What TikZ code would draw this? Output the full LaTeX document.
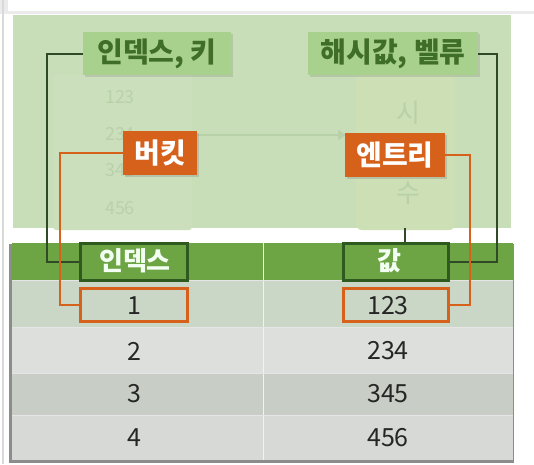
\documentclass[tikz,border=0pt]{standalone}
\usepackage{fontspec}
\setmainfont{Noto Sans CJK KR}
\newfontfamily\kr{Noto Sans CJK KR}
\usetikzlibrary{shadows,arrows.meta}
\definecolor{panel}{HTML}{C8DEB8}
\definecolor{ghostL}{HTML}{CBDFBD}
\definecolor{ghostR}{HTML}{CDDFB4}
\definecolor{ghosttxt}{HTML}{B9D1A9}
\definecolor{labfill}{HTML}{A9D18E}
\definecolor{labtxt}{HTML}{3F6E28}
\definecolor{orng}{HTML}{D5611B}
\definecolor{dkline}{HTML}{2E4A26}
\definecolor{hdrgreen}{HTML}{6EA544}
\definecolor{hdrbox}{HTML}{2F5A1F}
\definecolor{rowA}{HTML}{CAD6C6}
\definecolor{rowB}{HTML}{DCDFDB}
\definecolor{rowC}{HTML}{C8CEC6}
\definecolor{rowD}{HTML}{D6D9D5}
\tikzset{
  greenlab/.style={fill=labfill, text=labtxt, font=\kr\bfseries\fontsize{28}{28}\selectfont, inner sep=0pt, drop shadow={opacity=0.25, shadow xshift=2pt, shadow yshift=-2pt}},
  orangelab/.style={fill=orng, text=white, font=\kr\bfseries\fontsize{28}{28}\selectfont, inner sep=0pt, drop shadow={opacity=0.3, shadow xshift=2pt, shadow yshift=-2pt}},
  hdrcell/.style={draw=hdrbox, line width=3pt, inner sep=0pt},
  selcell/.style={draw=orng, line width=3pt, inner sep=0pt},
  darkline/.style={draw=dkline, line width=2pt},
  orangeline/.style={draw=orng, line width=2pt},
  numtxt/.style={font=\kr\fontsize{25}{25}\selectfont, text=black!85, inner sep=0pt},
  hdrtxt/.style={font=\kr\bfseries\fontsize{26}{26}\selectfont, text=white!95!green, inner sep=0pt},
  ghost/.style={font=\kr\fontsize{18}{18}\selectfont, text=ghosttxt, inner sep=0pt},
}
\begin{document}
\begin{tikzpicture}[x=1pt,y=-1pt]
\useasboundingbox (0,0) rectangle (534,464);
\fill[white] (0,0) rectangle (534,464);
\fill[black!8] (0,0) rectangle (534,14);
\fill[white] (8,0) rectangle (534,11);
\draw[black!15, line width=1.5pt] (3,0) -- (3,464);
% green panel
\fill[panel] (13,15) rectangle (511,228);
% ghost background elements
\fill[ghostL, rounded corners=3pt] (53,75) rectangle (192,230);
\fill[ghostR, rounded corners=6pt] (356,75) rectangle (455,230);
\node[ghost] (g1) at (120,97) {123};
\node[ghost] (g2) at (120,134) {234};
\node[ghost] (g3) at (120,170) {345};
\node[ghost] (g4) at (120,208) {456};
\node[ghost, font=\kr\fontsize{26}{26}\selectfont] (gh2) at (408,113) {시};
\node[ghost, font=\kr\fontsize{26}{26}\selectfont] (gh4) at (408,193) {수};
\draw[ghosttxt, line width=2.5pt, -{Triangle[length=8pt,width=10pt]}] (198,135) -- (346,135);
% table
\fill[black!45] (9,244) rectangle (514,463);
\fill[hdrgreen] (12,243) rectangle (513,280);
\fill[rowA] (12,280) rectangle (513,327);
\fill[rowB] (12,327) rectangle (513,373);
\fill[rowC] (12,373) rectangle (513,415);
\fill[rowD] (12,415) rectangle (513,460);
\draw[white!90!gray, line width=0.8pt] (263,243) -- (263,460);
\foreach \yy in {280,327,373,415} \draw[white!80!gray, line width=0.6pt] (12,\yy) -- (513,\yy);
% header boxes and selected cells
\node[hdrcell, minimum width=107pt, minimum height=37pt] (hdr1) at (133.5,261.5) {};
\node[hdrcell, minimum width=105pt, minimum height=37pt] (hdr2) at (395.5,261.5) {};
\node[selcell, minimum width=107pt, minimum height=33pt] (cell1) at (133.5,304.5) {};
\node[selcell, minimum width=105pt, minimum height=33pt] (cell2) at (395.5,304.5) {};
\node[hdrtxt] (h1t) at (135,261) {인덱스};
\node[hdrtxt] (h2t) at (389,261) {값};
\node[numtxt] (r1a) at (134,306) {1};
\node[numtxt] (r1b) at (388,306) {123};
\node[numtxt] (r2a) at (134,351) {2};
\node[numtxt] (r2b) at (388,351) {234};
\node[numtxt] (r3a) at (134,394) {3};
\node[numtxt] (r3b) at (388,394) {345};
\node[numtxt] (r4a) at (134,438) {4};
\node[numtxt] (r4b) at (388,438) {456};
% labels
\node[greenlab, minimum width=148pt, minimum height=43pt] (lab1) at (157,53.5) {인덱스, 키};
\node[greenlab, minimum width=170pt, minimum height=43pt] (lab2) at (393,53.5) {해시값, 벨류};
\node[orangelab, minimum width=74pt, minimum height=44pt] (bucket) at (160,153) {버킷};
\node[orangelab, minimum width=100pt, minimum height=44pt] (entry) at (395,155) {엔트리};
% connectors
\draw[darkline] (lab1.west) -- ++(-36,0) |- (hdr1.west);
\draw[darkline] (lab2.east) -- ++(19,0) |- (hdr2.east);
\coordinate (ghostbot) at (405,228);
\draw[darkline, line width=2.5pt] (ghostbot) -- (ghostbot |- hdr2.north);
\draw[orangeline] (bucket.west) -- ++(-63,0) |- (cell1.west);
\draw[orangeline] (entry.east) -- ++(25,0) |- (cell2.east);
\end{tikzpicture}
\end{document}
